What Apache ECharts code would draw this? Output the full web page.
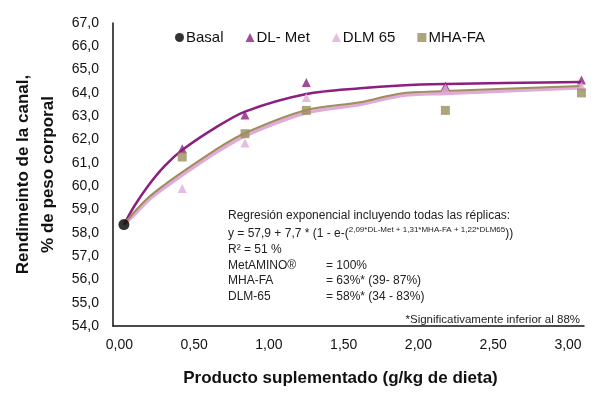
<!DOCTYPE html>
<html>
<head>
<meta charset="utf-8">
<script src="https://cdn.jsdelivr.net/npm/echarts@6/dist/echarts.min.js"></script>
<style>
html, body { margin: 0; padding: 0; background: #fff; }
#mainArea { width: 600px; height: 398px; }
</style>
</head>
<body>
<div id="mainArea"></div>
<script>
// datos
var basal = [[0.03, 58.35]];
var doses = [0.42, 0.84, 1.25, 2.18, 3.09];
var dlMet = [61.6, 63.05, 64.45, 64.3, 64.55];
var dlm65 = [59.9, 61.85, 63.8, 64.2, 64.3];
var mhaFa = [61.25, 62.25, 63.25, 63.25, 64.0];

// curvas ajustadas
var fitX = [0.03, 0.10, 0.19, 0.30, 0.42, 0.64, 0.84, 1.25, 1.61, 1.88, 2.18, 3.09];
var dlMetFit = [58.35, 59.15, 60.0, 60.85, 61.55, 62.5, 63.2, 63.95, 64.2, 64.32, 64.38, 64.47];
var mhaFaFit = [58.35, 58.89, 59.49, 60.05, 60.6, 61.55, 62.28, 63.27, 63.6, 63.98, 64.08, 64.3];
var dlm65Fit = [58.35, 58.78, 59.38, 59.93, 60.48, 61.42, 62.16, 63.15, 63.5, 63.88, 63.98, 64.22];

var xTicks = [0, 0.5, 1, 1.5, 2, 2.5, 3];

var colMet = '#8c1f80';
var colDlm = '#e2aad8';
var colMha = '#9b8f5c';

function pairs(xs, ys) {
    var d = [];
    for (var i = 0; i < xs.length; i++) {
        d.push([xs[i], ys[i]]);
    }
    return d;
}

var font = 'Liberation Sans, Arial, sans-serif';

function txt(l, t, s, size) {
    return { type: 'text', left: l, top: t, style: { text: s, font: (size || 12) + 'px ' + font, fill: '#222' } };
}

function fitLine(name, ys, color, width) {
    return {
        name: name, type: 'line', data: pairs(fitX, ys),
        smooth: 0.3, symbol: 'none', z: 1,
        lineStyle: { color: color, width: width }
    };
}

var option = {
    animation: false,
    textStyle: { fontFamily: font },
    grid: { left: 113, right: 16, top: 23, bottom: 72 },
    legend: {
        left: 170,
        top: 25,
        itemWidth: 9,
        itemHeight: 9,
        itemGap: 22,
        textStyle: { fontSize: 15, color: '#111', fontFamily: font, padding: [0, 0, 0, -3] },
        data: [
            { name: 'Basal', icon: 'circle' },
            { name: 'DL- Met', icon: 'triangle' },
            { name: 'DLM 65', icon: 'triangle' },
            { name: 'MHA-FA', icon: 'rect' }
        ]
    },
    xAxis: {
        type: 'value',
        min: -0.043,
        max: 3.107,
        splitLine: { show: false },
        axisLine: { lineStyle: { color: '#111', width: 1.5 } },
        axisTick: { show: false },
        axisLabel: {
            customValues: xTicks,
            fontSize: 14,
            color: '#111',
            margin: 12,
            formatter: function (v) { return v.toFixed(2).replace('.', ','); }
        },
        name: 'Producto suplementado (g/kg de dieta)',
        nameLocation: 'middle',
        nameGap: 44,
        nameTextStyle: { fontSize: 17, fontWeight: 'bold', color: '#111', padding: [0, 16, 0, 0] }
    },
    yAxis: {
        type: 'value',
        min: 54,
        max: 67,
        interval: 1,
        splitLine: { show: false },
        axisLine: { show: true, onZero: false, lineStyle: { color: '#111', width: 1.5 } },
        axisTick: { show: false },
        axisLabel: {
            fontSize: 14,
            color: '#111',
            margin: 14,
            formatter: function (v) { return v.toFixed(1).replace('.', ','); }
        },
        name: 'Rendimeinto de la canal,\n% de peso corporal',
        nameLocation: 'middle',
        nameGap: 52,
        nameTextStyle: { fontSize: 17, fontWeight: 'bold', color: '#111', lineHeight: 25 }
    },
    series: [
        fitLine('DL- Met fit', dlMetFit, colMet, 2.5),
        fitLine('DLM 65 fit', dlm65Fit, colDlm, 3.5),
        fitLine('MHA-FA fit', mhaFaFit, colMha, 2),
        {
            name: 'Basal', type: 'scatter', data: basal, z: 5,
            symbol: 'circle', symbolSize: 11, itemStyle: { color: '#000' }
        },
        {
            name: 'DL- Met', type: 'scatter', data: pairs(doses, dlMet), z: 3,
            symbol: 'triangle', symbolSize: 9, itemStyle: { color: colMet }
        },
        {
            name: 'DLM 65', type: 'scatter', data: pairs(doses, dlm65), z: 3,
            symbol: 'triangle', symbolSize: 9, itemStyle: { color: colDlm }
        },
        {
            name: 'MHA-FA', type: 'scatter', data: pairs(doses, mhaFa), z: 3,
            symbol: 'rect', symbolSize: 9, itemStyle: { color: colMha }
        }
    ],
    graphic: [
        txt(228, 210, 'Regresión exponencial incluyendo todas las réplicas:'),
        {
            type: 'text', left: 228, top: 226,
            style: {
                text: '{n|y = 57,9 + 7,7 * (1 - e-(}{s|2,09*DL-Met + 1,31*MHA-FA + 1,22*DLM65}{n|))}',
                fill: '#222',
                rich: {
                    n: { fontSize: 12, fontFamily: font, fill: '#222', verticalAlign: 'bottom' },
                    s: { fontSize: 8, fontFamily: font, fill: '#222', verticalAlign: 'top', padding: [0, 0, 6, 0] }
                }
            }
        },
        txt(228, 244, 'R² = 51 %'),
        txt(228, 260, 'MetAMINO®'),
        txt(326, 260, '= 100%'),
        txt(228, 275, 'MHA-FA'),
        txt(326, 275, '= 63%* (39- 87%)'),
        txt(228, 291, 'DLM-65'),
        txt(326, 291, '= 58%* (34 - 83%)'),
        {
            type: 'text', right: 20, top: 314,
            style: { text: '*Significativamente inferior al 88%', font: '11.5px ' + font, fill: '#222' }
        }
    ]
};

var myChart = echarts.init(document.getElementById('mainArea'));
myChart.setOption(option);
</script>
</body>
</html>
